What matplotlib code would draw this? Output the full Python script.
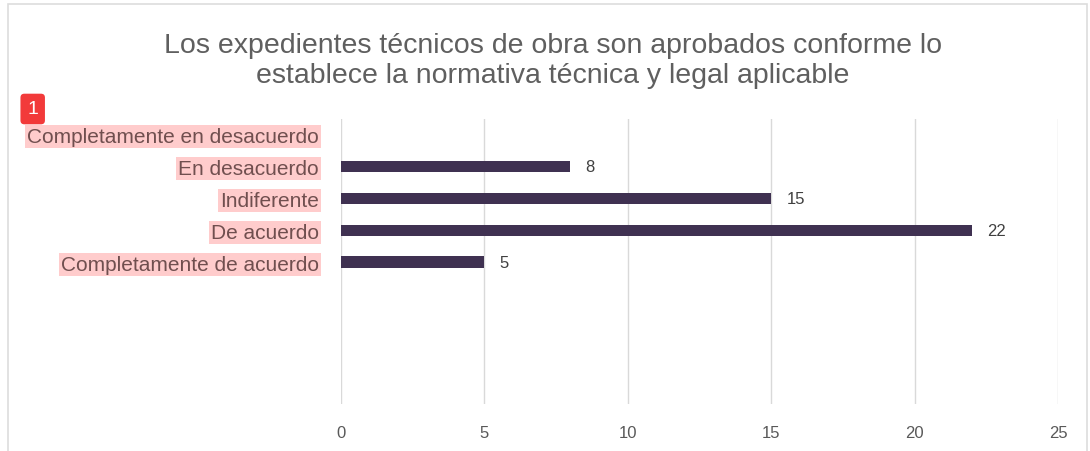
import matplotlib.pyplot as plt
from matplotlib.patches import Rectangle

categorias = ['Completamente en desacuerdo', 'En desacuerdo', 'Indiferente',
              'De acuerdo', 'Completamente de acuerdo']
valores = [0, 8, 15, 22, 5]
ticks_x = [0, 5, 10, 15, 20, 25]

plt.rcParams['font.family'] = ['Liberation Sans', 'DejaVu Sans']

fig = plt.figure(figsize=(10.9, 4.52), dpi=100)
ax = fig.add_axes([0.3128, 0.104, 0.6578, 0.631])

pos = list(range(len(categorias)))
ax.barh(pos, valores, height=0.36, color='#3f3151', zorder=3)
for p, v in zip(pos, valores):
    if v > 0:
        ax.annotate(str(v), (v, p), xytext=(11, 0), textcoords='offset points',
                    va='center', ha='left', fontsize=12, color='#404040',
                    family=['Liberation Sans Narrow', 'Liberation Sans'])

ax.set_xlim(0, 25)
ax.set_ylim(8.45, -0.5)
ax.set_xticks(ticks_x)
ax.set_yticks(pos)
ax.set_yticklabels(categorias, fontsize=15, color='#704f4f')
for lbl in ax.get_yticklabels():
    lbl.set_bbox(dict(facecolor='#ffcccc', edgecolor='none', pad=1.5))
ax.tick_params(axis='y', length=0, pad=16)
ax.tick_params(axis='x', length=0, pad=15, labelsize=12, labelcolor='#595959')
for lbl in ax.get_xticklabels():
    lbl.set_family(['Liberation Sans Narrow', 'Liberation Sans'])
ax.grid(axis='x', color='#d9d9d9', linewidth=1, zorder=0)
for s in ax.spines.values():
    s.set_visible(False)

fig.text(0.507, 1 - 61 / 452, 'Los expedientes técnicos de obra son aprobados conforme lo\n'
         'establece la normativa técnica y legal aplicable',
         ha='center', va='center', fontsize=20.5, color='#5f5f5f', linespacing=1.2)

# marca roja
fig.text(0.030, 1 - 110 / 452, '1', ha='center', va='center', fontsize=14, color='white',
         bbox=dict(boxstyle='round,pad=0.35,rounding_size=0.2', facecolor='#f23a3a', edgecolor='none'))

# marco
fig.patches.append(Rectangle((0.007, -0.05), 0.990, 1.04, transform=fig.transFigure,
                             fill=False, edgecolor='#dddddd', linewidth=1.2))

fig.savefig('out.png', dpi=100)
